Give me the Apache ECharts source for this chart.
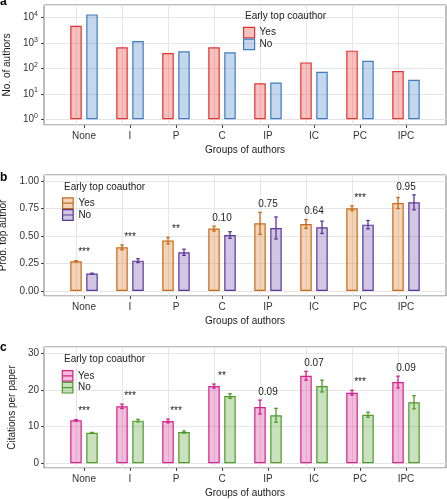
<!DOCTYPE html>
<html><head><meta charset="utf-8">
<script src="https://cdn.jsdelivr.net/npm/echarts@6/dist/echarts.min.js"></script>
<style>html,body{margin:0;padding:0;background:#fff}#c{width:447px;height:500px}</style>
</head><body><div id="c"></div>
<script>
// ---------- data ----------
const categories = ['None', 'I', 'P', 'C', 'IP', 'IC', 'PC', 'IPC'];
const legendNames = ['Yes', 'No'];
const legendTitle = 'Early top coauthor';
const xTitle = 'Groups of authors';

// panel a: number of authors (log scale)
const authorsYes = [4840, 680, 407, 680, 26, 174, 505, 80];
const authorsNo = [13500, 1210, 473, 433, 28, 75, 203, 36];
const authorsTicks = [1, 10, 100, 1000, 10000];

// panel b: probability of top author
const probYes = [0.27, 0.397, 0.458, 0.567, 0.615, 0.609, 0.752, 0.80];
const probYesErr = [0.006, 0.022, 0.03, 0.022, 0.10, 0.04, 0.022, 0.05];
const probNo = [0.158, 0.276, 0.352, 0.509, 0.573, 0.579, 0.603, 0.806];
const probNoErr = [0.004, 0.017, 0.028, 0.03, 0.10, 0.056, 0.038, 0.068];
const probSig = ['***', '***', '**', '0.10', '0.75', '0.64', '***', '0.95'];
const probTicks = [0, 0.25, 0.5, 0.75, 1.0];

// panel c: citations per paper
const citesYes = [11.7, 15.5, 11.5, 21.0, 15.3, 23.8, 19.2, 22.1];
const citesYesErr = [0.2, 0.6, 0.5, 0.55, 1.9, 1.2, 0.65, 1.6];
const citesNo = [8.3, 11.6, 8.5, 18.3, 13.05, 21.0, 13.2, 16.6];
const citesNoErr = [0.1, 0.35, 0.3, 0.65, 1.9, 1.6, 0.7, 1.8];
const citesSig = ['***', '***', '***', '**', '0.09', '0.07', '***', '0.09'];
const citesTicks = [0, 10, 20, 30];

// ---------- styling / layout ----------
const FONT = "'Liberation Sans', Arial, Helvetica, sans-serif";
const BAR_W = 11.5, BAR_GAP = 4.5, OFF = (BAR_W + BAR_GAP) / 2;
const GRIDLINE = '#e6e6e6';

const panels = [
  { key: 'a', top: 5, height: 120, type: 'log', min: 0.597, max: 31623, ticks: authorsTicks,
    yName: 'No. of authors', nameGap: 26,
    yes: authorsYes, no: authorsNo,
    colYes: ['#e3322f', 'rgba(227,50,47,0.3)'], colNo: ['#3f7cc0', 'rgba(63,124,192,0.3)'],
    legend: { left: 243, top: 26.7 }, ltitle: { left: 245, top: 11 }, letter: -4, icon: 'rect' },
  { key: 'b', top: 175, height: 121, type: 'value', min: -0.0455, max: 1.0545, step: 0.25, ticks: probTicks,
    yName: 'Prob. top author', nameGap: 33,
    yes: probYes, no: probNo, yesErr: probYesErr, noErr: probNoErr, sig: probSig,
    colYes: ['#c96a17', 'rgba(214,120,40,0.32)'], colNo: ['#5e3697', 'rgba(104,70,160,0.3)'],
    legend: { left: 62, top: 197.3 }, ltitle: { left: 64, top: 182.3 }, letter: 172,
    icon: 'path://M0,0H10V10H0ZM0,5H10', fmt: v => v.toFixed(2) },
  { key: 'c', top: 347, height: 121, type: 'value', min: -1.28, max: 31.63, step: 10, ticks: citesTicks,
    yName: 'Citations per paper', nameGap: 27,
    yes: citesYes, no: citesNo, yesErr: citesYesErr, noErr: citesNoErr, sig: citesSig,
    colYes: ['#d2238a', 'rgba(210,35,138,0.3)'], colNo: ['#4e9a2a', 'rgba(78,154,42,0.3)'],
    legend: { left: 61.7, top: 370 }, ltitle: { left: 64, top: 354 }, letter: 342,
    icon: 'path://M0,0H10V10H0ZM0,5H10', fmt: v => String(Math.round(v)) }
];

const grid = [], xAxis = [], yAxis = [], series = [], legend = [], title = [];

function isTick(list, v) {
  return list.some(t => Math.abs(t - v) < 1e-6 * Math.max(1, Math.abs(t)));
}

function errorSeries(idx, vals, errs, offset, color) {
  return {
    type: 'custom', xAxisIndex: idx, yAxisIndex: idx, z: 4, silent: true,
    encode: { x: 0, y: [1, 2] },
    data: vals.map((v, i) => [i, v - errs[i], v + errs[i]]),
    renderItem: (params, api) => {
      const lo = api.coord([api.value(0), api.value(1)]);
      const hi = api.coord([api.value(0), api.value(2)]);
      const x = lo[0] + offset;
      const st = { stroke: color, lineWidth: 1.3 };
      return { type: 'group', children: [
        { type: 'line', shape: { x1: x, y1: lo[1], x2: x, y2: hi[1] }, style: st },
        { type: 'line', shape: { x1: x - 1.8, y1: lo[1], x2: x + 1.8, y2: lo[1] }, style: st },
        { type: 'line', shape: { x1: x - 1.8, y1: hi[1], x2: x + 1.8, y2: hi[1] }, style: st }
      ] };
    }
  };
}

panels.forEach((p, k) => {
  const o = 2 * k, n = 2 * k + 1;
  grid.push({ left: 44, width: 402, top: p.top, height: p.height, show: true,
    borderColor: '#7c7c7c', borderWidth: 1, backgroundColor: 'rgba(0,0,0,0)', outerBoundsMode: 'none' });
  grid.push({ left: 84, width: 322, top: p.top, height: p.height, show: false, outerBoundsMode: 'none' });

  xAxis.push({ gridIndex: o, type: 'category', data: categories, show: false });
  xAxis.push({ gridIndex: n, type: 'category', data: categories, boundaryGap: false,
    axisLine: { show: false, onZero: false },
    axisTick: { show: true, length: 3, interval: 0, lineStyle: { color: '#444', width: 1 } },
    axisLabel: { interval: 0, margin: 6, fontSize: 10, color: '#333', fontFamily: FONT },
    splitLine: { show: false },
    name: xTitle, nameLocation: 'middle', nameGap: 20,
    nameTextStyle: { fontSize: 10, color: '#1a1a1a', fontFamily: FONT } });

  const yOuter = { gridIndex: o, type: p.type, min: p.min, max: p.max,
    axisLine: { show: false, onZero: false },
    axisTick: { show: true, length: 3, lineStyle: { color: '#444', width: 1 } },
    splitLine: { show: true, lineStyle: { color: GRIDLINE, width: 1 } },
    name: p.yName, nameLocation: 'middle', nameGap: p.nameGap, nameRotate: 90,
    nameTextStyle: { fontSize: 10, color: '#1a1a1a', fontFamily: FONT } };
  if (p.type === 'log') {
    yOuter.logBase = 10;
    yOuter.axisLabel = { margin: 6, color: '#333', fontFamily: FONT, showMinLabel: false, showMaxLabel: false,
      formatter: v => isTick(p.ticks, v) ? '{b|10}{s|' + Math.round(Math.log10(v)) + '}' : '',
      rich: { b: { fontSize: 10, lineHeight: 14, color: '#333', fontFamily: FONT },
              s: { fontSize: 7, lineHeight: 8, verticalAlign: 'top', color: '#333', fontFamily: FONT } } };
  } else {
    yOuter.minInterval = p.step; yOuter.maxInterval = p.step;
    yOuter.axisLabel = { margin: 5, fontSize: 10, color: '#333', fontFamily: FONT,
      showMinLabel: false, showMaxLabel: false,
      formatter: v => isTick(p.ticks, v) ? p.fmt(v) : '' };
  }
  yAxis.push(yOuter);
  yAxis.push({ gridIndex: n, type: p.type, min: p.min, max: p.max, show: false,
    logBase: 10, axisLine: { onZero: false }, splitLine: { show: false } });

  const nmYes = p.key + '|' + legendNames[0], nmNo = p.key + '|' + legendNames[1];
  series.push({ type: 'bar', name: nmYes, xAxisIndex: n, yAxisIndex: n, data: p.yes,
    barWidth: BAR_W, barGap: (BAR_GAP / BAR_W * 100).toFixed(1) + '%', z: 2,
    itemStyle: { color: p.colYes[1], borderColor: p.colYes[0], borderWidth: 1.2 },
    // vertical panel grid lines at each category
    markLine: { silent: true, symbol: ['none', 'none'], z: 1, animation: false,
      label: { show: false },
      lineStyle: { color: GRIDLINE, width: 1, type: 'solid' },
      emphasis: { disabled: true },
      data: categories.map(c => ({ xAxis: c })) } });
  series.push({ type: 'bar', name: nmNo, xAxisIndex: n, yAxisIndex: n, data: p.no,
    barWidth: BAR_W, barGap: (BAR_GAP / BAR_W * 100).toFixed(1) + '%', z: 2,
    itemStyle: { color: p.colNo[1], borderColor: p.colNo[0], borderWidth: 1.2 } });

  if (p.yesErr) {
    series.push(errorSeries(n, p.yes, p.yesErr, -OFF, p.colYes[0]));
    series.push(errorSeries(n, p.no, p.noErr, OFF, p.colNo[0]));
    const tops = p.yes.map((v, i) => Math.max(v + p.yesErr[i], p.no[i] + p.noErr[i]));
    series.push({ type: 'custom', xAxisIndex: n, yAxisIndex: n, z: 5, silent: true,
      encode: { x: 0, y: 1 },
      data: tops.map((t, i) => [i, t, p.sig[i]]),
      renderItem: (params, api) => {
        const pt = api.coord([api.value(0), api.value(1)]);
        return { type: 'text', x: pt[0], y: pt[1] - 3,
          style: { text: p.sig[params.dataIndex], fill: '#222', font: '10px ' + FONT,
                   textAlign: 'center', textVerticalAlign: 'bottom', verticalAlign: 'bottom' } };
      } });
  }

  legend.push({ orient: 'vertical', left: p.legend.left, top: p.legend.top, padding: 0,
    itemWidth: 11, itemHeight: 10.6, itemGap: 0, selectedMode: false, icon: p.icon,
    formatter: name => name.split('|')[1],
    textStyle: { fontSize: 10, color: '#222', fontFamily: FONT, lineHeight: 10.6, padding: [0, 0, 0, 0] },
    data: [
      { name: nmYes, itemStyle: { color: p.colYes[1], borderColor: p.colYes[0], borderWidth: 1.2 } },
      { name: nmNo, itemStyle: { color: p.colNo[1], borderColor: p.colNo[0], borderWidth: 1.2 } }
    ] });

  title.push({ text: legendTitle, left: p.ltitle.left, top: p.ltitle.top, padding: 0,
    textStyle: { fontSize: 10, fontWeight: 'normal', color: '#222', fontFamily: FONT } });
  title.push({ text: p.key, left: 0, top: p.letter, padding: 0,
    textStyle: { fontSize: 12, fontWeight: 'bold', color: '#000', fontFamily: FONT } });
});

const chart = echarts.init(document.getElementById('c'), null, { renderer: 'canvas' });
chart.setOption({
  animation: false,
  backgroundColor: '#fff',
  textStyle: { fontFamily: FONT },
  title, grid, xAxis, yAxis, series, legend
});
</script></body></html>
